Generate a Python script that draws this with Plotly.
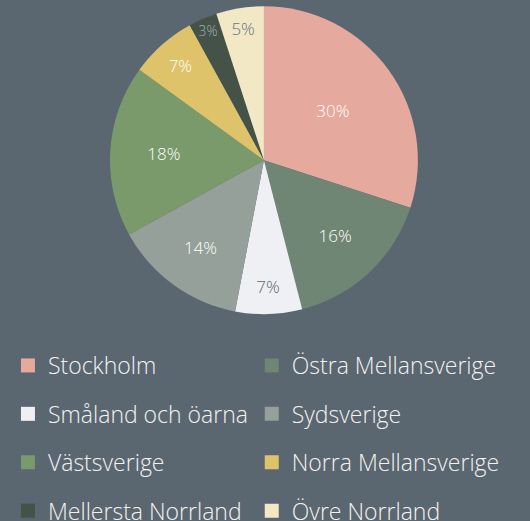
import plotly.graph_objects as go

regioner = ['Stockholm', 'Östra Mellansverige', 'Småland och öarna', 'Sydsverige',
            'Västsverige', 'Norra Mellansverige', 'Mellersta Norrland', 'Övre Norrland']
andel = [30, 16, 7, 14, 18, 7, 3, 5]
farger = ['#e5a99d', '#6e8673', '#eff0f3', '#95a09a',
          '#7a9a6b', '#dfc36b', '#445248', '#f2e8c6']
textfarger = ['#ffffff', '#ffffff', '#5a6670', '#ffffff',
              '#ffffff', '#ffffff', '#a9b0b5', '#6b757d']

BG = '#5a6670'
FONT = 'Open Sans'

fig = go.Figure()

fig.add_trace(go.Pie(
    labels=regioner,
    values=andel,
    sort=False,
    direction='clockwise',
    rotation=0,
    marker=dict(colors=farger, line=dict(width=0)),
    textinfo='percent',
    texttemplate='%{percent:.0%}',
    textposition='inside',
    insidetextorientation='horizontal',
    textfont=dict(family=FONT, size=17, color=textfarger, weight=300),
    domain=dict(x=[0.198, 0.798], y=[0.397, 0.988]),
    showlegend=False,
    hoverinfo='label+percent'
))

# legendposter i två kolumner
for i, (namn, farg) in enumerate(zip(regioner, farger)):
    fig.add_trace(go.Scatter(
        x=[None], y=[None],
        mode='markers',
        marker=dict(symbol='square', size=14, color=farg),
        name=namn,
        legendgroup=namn,
        legend='legend' if i % 2 == 0 else 'legend2'
    ))

legend_stil = dict(
    orientation='v',
    bgcolor='rgba(0,0,0,0)',
    font=dict(family=FONT, size=23, color='#f2f2f2', weight=300),
    tracegroupgap=15.5,
    yanchor='bottom',
    y=-0.023,
    xanchor='left'
)

fig.update_layout(
    width=530,
    height=521,
    paper_bgcolor=BG,
    plot_bgcolor=BG,
    margin=dict(l=0, r=0, t=0, b=0, autoexpand=False),
    xaxis=dict(visible=False),
    yaxis=dict(visible=False),
    legend=dict(legend_stil, x=0.015),
    legend2=dict(legend_stil, x=0.475),
)

# ta bort sidans standardmarginal så att figuren fyller fönstret
fig.write_html("out.html", config={'displayModeBar': False},
               post_script="document.body.style.margin='0';")
